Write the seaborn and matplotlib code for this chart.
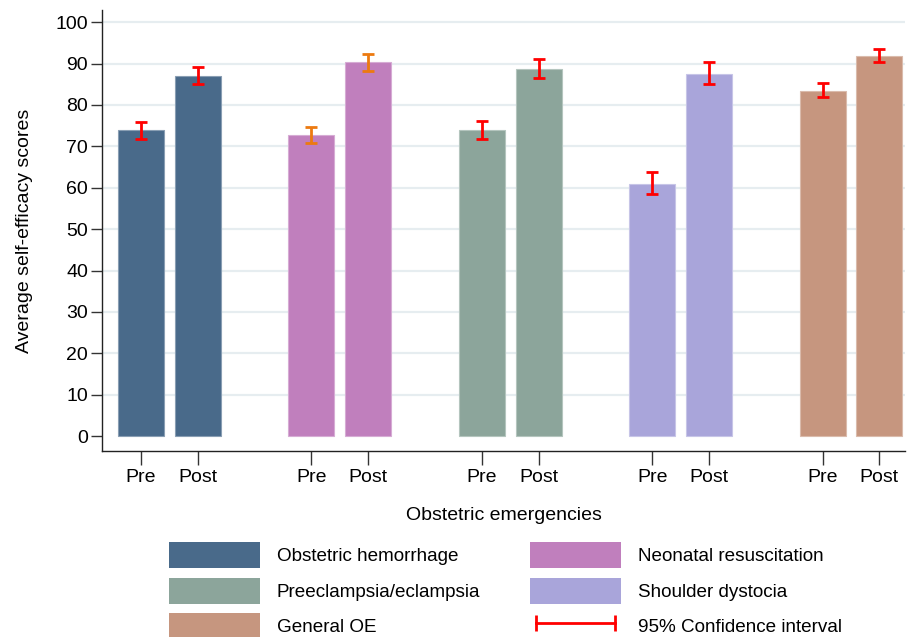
import seaborn as sns
import pandas as pd
import matplotlib.pyplot as plt
import numpy as np
from matplotlib.patches import Patch
from matplotlib.lines import Line2D

emergencies = ["Obstetric hemorrhage", "Neonatal resuscitation", "Preeclampsia/eclampsia",
               "Shoulder dystocia", "General OE"]
phases = ["Pre", "Post"]
pre_mean = [73.9, 72.8, 73.9, 60.9, 83.4]
post_mean = [87.1, 90.3, 88.8, 87.6, 91.9]
pre_lo = [71.9, 70.8, 71.7, 58.4, 82.0]
pre_hi = [75.8, 74.7, 76.2, 63.7, 85.2]
post_lo = [85.0, 88.3, 86.6, 85.1, 90.3]
post_hi = [89.2, 92.3, 91.1, 90.3, 93.6]

colors = ["#496a8a", "#c07fbd", "#8ca59b", "#a9a5da", "#c6967f"]
ci_colors = ["#ff0000", "#ec7a10", "#ff0000", "#ff0000", "#ff0000"]

rows = []
for g, name in enumerate(emergencies):
    for k, ph in enumerate(phases):
        m = [pre_mean, post_mean][k][g]
        lo = [pre_lo, post_lo][k][g]
        hi = [pre_hi, post_hi][k][g]
        rows.append(dict(group=name, phase=ph, pos=3 * g + k, score=m, lo=lo, hi=hi))
df = pd.DataFrame(rows)

plt.rcParams['font.family'] = ['Liberation Sans', 'DejaVu Sans']
fig = plt.figure(figsize=(9.1, 6.37), dpi=100)
ax = fig.add_axes([0.112, 0.292, 0.883, 0.692])

sns.barplot(data=df, x="pos", y="score", hue="group", hue_order=emergencies,
            palette=colors, saturation=1, native_scale=True, dodge=False, width=0.81,
            errorbar=None, linewidth=0.8, edgecolor="#ffffff", legend=False, ax=ax, zorder=2)
for p in ax.patches:
    fc = np.array(p.get_facecolor()[:3])
    p.set_edgecolor(tuple(fc + (1 - fc) * 0.35))

for g in range(len(emergencies)):
    sub = df[df.group == emergencies[g]]
    ax.errorbar(sub.pos, sub.score, yerr=[sub.score - sub.lo, sub.hi - sub.score],
                fmt="none", ecolor=ci_colors[g], elinewidth=2, capsize=4.5, capthick=2, zorder=3)

ax.set_xlim(-0.69, 13.46)
ax.set_ylim(-3.6, 102.9)
ax.set_yticks(range(0, 101, 10))
ax.set_xticks(df.pos)
ax.set_xticklabels(df.phase)
for y in range(10, 101, 10):
    ax.axhline(y, color="#e6edf0", lw=1.6, zorder=0)
ax.grid(False)
for s in ["top", "right"]:
    ax.spines[s].set_visible(False)
for s in ["left", "bottom"]:
    ax.spines[s].set_color("#222222")
    ax.spines[s].set_linewidth(1)
ax.tick_params(axis="both", labelsize=14, length=8, width=1, color="#333333", pad=2)
ax.tick_params(axis="x", length=10, pad=3)
ax.set_ylabel("Average self-efficacy scores", fontsize=14, labelpad=16)
ax.set_xlabel("Obstetric emergencies", fontsize=14, labelpad=15)

handles = [Patch(facecolor=colors[0]), Patch(facecolor=colors[2]), Patch(facecolor=colors[4]),
           Patch(facecolor=colors[1]), Patch(facecolor=colors[3]),
           Line2D([0], [0], color="#ff0000", lw=2, marker="|", markersize=11, markeredgewidth=2)]
labels = [emergencies[0], emergencies[2], emergencies[4], emergencies[1], emergencies[3],
          "95% Confidence interval"]
leg = fig.legend(handles, labels, ncol=2, loc="upper left", frameon=False, fontsize=13.6,
                 handlelength=4.8, handleheight=1.75, labelspacing=0.5, handletextpad=0.9,
                 columnspacing=2.65, numpoints=2, borderpad=0, borderaxespad=0)
leg.set_bbox_to_anchor((0.186, 0.149), transform=fig.transFigure)

fig.savefig("out.png", dpi=100)
